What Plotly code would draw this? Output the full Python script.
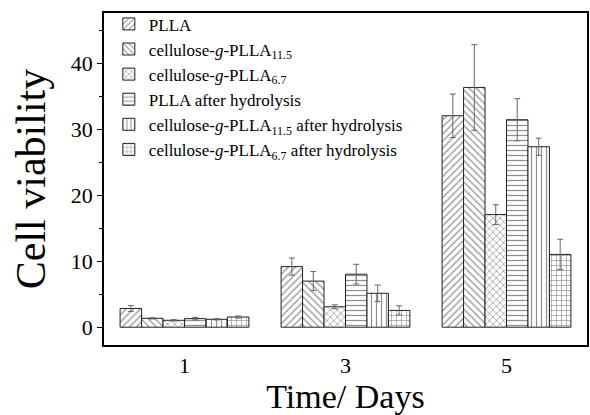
import plotly.graph_objects as go

days = [1, 3, 5]
series_names = [
    "PLLA",
    "cellulose-<i>g</i>-PLLA<sub>11.5</sub>",
    "cellulose-<i>g</i>-PLLA<sub>6.7</sub>",
    "PLLA after hydrolysis",
    "cellulose-<i>g</i>-PLLA<sub>11.5</sub> after hydrolysis",
    "cellulose-<i>g</i>-PLLA<sub>6.7</sub> after hydrolysis",
]
pla = [2.85, 9.2, 32.1]
cel115 = [1.35, 7.0, 36.4]
cel67 = [1.05, 3.1, 17.1]
pla_h = [1.3, 8.05, 31.5]
cel115_h = [1.2, 5.15, 27.4]
cel67_h = [1.55, 2.55, 11.05]

pla_err = [0.45, 1.3, 3.3]
cel115_err = [0.1, 1.45, 6.5]
cel67_err = [0.1, 0.3, 1.5]
pla_h_err = [0.2, 1.5, 3.2]
cel115_h_err = [0.1, 1.25, 1.3]
cel67_h_err = [0.15, 0.7, 2.3]

values = [pla, cel115, cel67, pla_h, cel115_h, cel67_h]
errors = [pla_err, cel115_err, cel67_err, pla_h_err, cel115_h_err, cel67_h_err]
shapes = ["/", "\\", "x", "-", "|", "+"]

fig = go.Figure()
for name, v, e, s in zip(series_names, values, errors, shapes):
    fig.add_trace(go.Bar(
        x=days, y=v, name=name,
        marker=dict(color="white",
                    line=dict(color="#222", width=1),
                    pattern=dict(shape=s, fgcolor="#222", bgcolor="white",
                                 size=5, solidity=0.25)),
        error_y=dict(type="data", array=e, visible=True, color="#666",
                     thickness=1, width=3),
    ))

font = "Liberation Serif, Times New Roman, serif"
fig.update_layout(
    width=590, height=415,
    margin=dict(l=104, r=1, t=13, b=67),
    barmode="group", bargap=0.2, bargroupgap=0,
    plot_bgcolor="white", paper_bgcolor="white",
    font=dict(family=font, color="black"),
    showlegend=True,
    legend=dict(x=0.01, y=1.02, xanchor="left", yanchor="top",
                font=dict(family=font, size=17, color="black"),
                bgcolor="rgba(0,0,0,0)", tracegroupgap=0),
    xaxis=dict(range=[0, 6], tickvals=days, ticktext=[str(d) for d in days],
               ticks="", showline=True, mirror=True, linecolor="black",
               linewidth=1.5, showgrid=False, zeroline=False,
               tickfont=dict(size=22),
               title=dict(text="Time/ Days", font=dict(size=34), standoff=12)),
    yaxis=dict(range=[-2.7, 47.7], tickvals=[0, 10, 20, 30, 40],
               ticks="outside", ticklen=5, tickwidth=1.2, tickcolor="black",
               minor=dict(tickvals=[5, 15, 25, 35, 45], ticks="outside",
                          ticklen=3, tickcolor="black"),
               showline=True, mirror=True, linecolor="black", linewidth=1.5,
               showgrid=False, zeroline=False, tickfont=dict(size=22),
               title=dict(text="Cell viability", font=dict(size=42), standoff=12)),
)

fig.write_html("out.html")
